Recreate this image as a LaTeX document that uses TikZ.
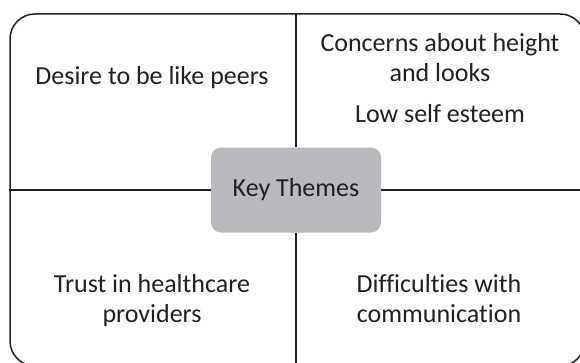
\documentclass[tikz,border=0pt]{standalone}
\usepackage{fontspec}
\setmainfont{Carlito}[RawFeature={-liga}]
\usetikzlibrary{positioning}
\definecolor{ink}{RGB}{35,31,32}
\definecolor{hubgray}{RGB}{185,185,190}

\begin{document}
\begin{tikzpicture}[x=1pt,y=1pt,
    theme/.style={align=center,text=ink,inner sep=0pt,anchor=base,
      font=\fontsize{26}{30}\selectfont},
    hub/.style={fill=hubgray,rounded corners=10pt,minimum width=170pt,
      minimum height=85pt,text=ink,font=\fontsize{26}{30}\selectfont},
    frame/.style={draw=ink,line width=1.5pt,rounded corners=25pt,
      minimum width=575pt,minimum height=352pt},
    axis/.style={draw=ink,line width=1.5pt}]
  \useasboundingbox (0,0) rectangle (580,362);
  \clip (0,0) rectangle (580,362);

  \node[frame] (frame) at (297.5,172) {};
  \node[hub] (keys) at (296,172) {Key Themes};

  % the cross through the key themes box
  \draw[axis] (frame.north -| keys) -- (keys.north);
  \draw[axis] (keys.south) -- (frame.south -| keys);
  \draw[axis] (frame.west |- keys) -- (keys.west);
  \draw[axis] (keys.east) -- (frame.east |- keys);

  \node[theme] (peers) at (152,277) {Desire to be like peers};
  \node[theme] (height) at (440,280) {Concerns about height\\and looks};
  \node[theme] (esteem) at (440,240) {Low self esteem};
  \node[theme] (trust) at (152,40) {Trust in healthcare\\providers};
  \node[theme] (talk) at (439,40) {Difficulties with\\communication};
\end{tikzpicture}
\end{document}
